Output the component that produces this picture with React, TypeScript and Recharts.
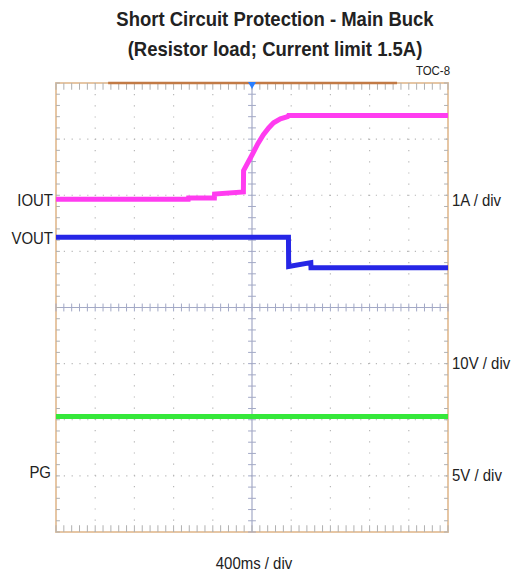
import React from "react";
import {
  LineChart,
  Line,
  XAxis,
  YAxis,
  ReferenceLine,
  ReferenceArea,
  ReferenceDot,
} from "recharts";

// time in ms (400 ms / div), levels in screen divisions from centre
const TIME_TICKS = [-2000, -1600, -1200, -800, -400, 0, 400, 800, 1200, 1600, 2000];
const DIV_TICKS = [-4, -3, -2, -1, 0, 1, 2, 3, 4];

const IOUT_T = [-2000, -650, -648, -384, -382, -88, -86, 4, 60, 116, 170, 220, 290, 364, 372, 2000];
const IOUT_V = [1.93, 1.93, 1.95, 1.95, 2.02, 2.06, 2.44, 2.73, 2.92, 3.08, 3.2, 3.29, 3.36, 3.4, 3.42, 3.42];

const VOUT_T = [-2000, 372, 374, 600, 602, 2000];
const VOUT_V = [1.25, 1.25, 0.73, 0.8, 0.71, 0.71];

const PG_T = [-2000, 2000];
const PG_V = [-1.94, -1.94];

// scope decorations: record bar at top, zoom bars at bottom
const TOP_BAR = [-1468, 1480];
const BOTTOM_BARS = [
  [-1980, -312],
  [-240, 1520],
];

const minorT: number[] = [];
for (let i = 0; i <= 50; i++) minorT.push(-2000 + i * 80);
const minorV: number[] = [];
for (let i = 0; i <= 40; i++) minorV.push(-4 + i * 0.2);

const W = 515;
const H = 577;
const FONT = "'Liberation Sans', Arial, sans-serif";

const iout = IOUT_T.map((t, i) => ({ t, v: IOUT_V[i] }));
const vout = VOUT_T.map((t, i) => ({ t, v: VOUT_V[i] }));
const pg = PG_T.map((t, i) => ({ t, v: PG_V[i] }));

const GRID = "#b8b8b8";
const CROSS = "#a3a9c6";
const TICK = "#b0b0b0";

function Trigger(props: any) {
  const { cx, cy } = props;
  return (
    <polygon
      points={`${cx - 4},${cy - 1} ${cx + 4},${cy - 1} ${cx},${cy + 6}`}
      fill="#2a7fff"
    />
  );
}

// narrow-looking text: Liberation Sans squeezed horizontally
function Text({ x, y, size, bold, anchor, children }: any) {
  const tx =
    anchor === "end" ? "translate(-100%, -50%)" : anchor === "middle" ? "translate(-50%, -50%)" : "translate(0, -50%)";
  const origin = anchor === "end" ? "right center" : anchor === "middle" ? "center center" : "left center";
  return (
    <div style={{ position: "absolute", left: x, top: y, transform: tx, whiteSpace: "nowrap" }}>
      <div
        style={{
          fontFamily: FONT,
          fontSize: size,
          fontWeight: bold ? 700 : 400,
          color: "#222",
          lineHeight: 1,
          transform: "scaleX(0.88)",
          transformOrigin: origin,
        }}
      >
        {children}
      </div>
    </div>
  );
}

export default function App() {
  return (
    <div style={{ position: "absolute", left: 0, top: 0, width: W, height: H, background: "#fff" }}>
      <LineChart width={W} height={H} margin={{ top: 83, right: 67, bottom: 45, left: 56 }}>
        <XAxis dataKey="t" type="number" domain={[-2000, 2000]} hide allowDuplicatedCategory={false} />
        <YAxis dataKey="v" type="number" domain={[-4, 4]} hide />

        {TIME_TICKS.slice(1, -1).map((t) =>
          t === 0 ? null : (
            <ReferenceLine key={"gx" + t} x={t} stroke={GRID} strokeWidth={1.2} strokeDasharray="1.2 10" />
          )
        )}
        {DIV_TICKS.slice(1, -1).map((v) =>
          v === 0 ? null : (
            <ReferenceLine key={"gy" + v} y={v} stroke={GRID} strokeWidth={1.2} strokeDasharray="1.2 6.6" />
          )
        )}

        <ReferenceLine x={0} stroke={CROSS} strokeWidth={1.2} />
        <ReferenceLine y={0} stroke={CROSS} strokeWidth={1.2} />

        {minorT.map((t) => (
          <ReferenceLine key={"cx" + t} segment={[{ x: t, y: -0.07 }, { x: t, y: 0.07 }]} stroke={CROSS} />
        ))}
        {minorV.map((v) => (
          <ReferenceLine key={"cy" + v} segment={[{ x: -40, y: v }, { x: 40, y: v }]} stroke={CROSS} />
        ))}
        {minorT.map((t) => (
          <ReferenceLine key={"tt" + t} segment={[{ x: t, y: 4 }, { x: t, y: 3.88 }]} stroke={TICK} />
        ))}
        {minorT.map((t) => (
          <ReferenceLine key={"bt" + t} segment={[{ x: t, y: -4 }, { x: t, y: -3.88 }]} stroke={TICK} />
        ))}
        {minorV.map((v) => (
          <ReferenceLine key={"lt" + v} segment={[{ x: -2000, y: v }, { x: -1960, y: v }]} stroke={TICK} />
        ))}
        {minorV.map((v) => (
          <ReferenceLine key={"rt" + v} segment={[{ x: 2000, y: v }, { x: 1960, y: v }]} stroke={TICK} />
        ))}

        <ReferenceArea x1={-2000} x2={2000} y1={-4} y2={4} fill="none" stroke="#e6c6a4" strokeWidth={2} />

        <ReferenceLine
          segment={[{ x: TOP_BAR[0], y: 4 }, { x: TOP_BAR[1], y: 4 }]}
          stroke="#c27a45"
          strokeWidth={2.5}
        />
        {BOTTOM_BARS.map(([a, b]) => (
          <ReferenceLine
            key={"bb" + a}
            segment={[{ x: a, y: -4.03 }, { x: b, y: -4.03 }]}
            stroke="#5d6272"
            strokeWidth={2}
          />
        ))}

        <Line data={pg} dataKey="v" stroke="#35e83a" strokeWidth={5} dot={false} isAnimationActive={false} />
        <Line data={vout} dataKey="v" stroke="#2626e6" strokeWidth={5} dot={false} isAnimationActive={false} />
        <Line data={iout} dataKey="v" stroke="#ff3cf0" strokeWidth={5} dot={false} isAnimationActive={false} />

        <ReferenceDot x={0} y={4} r={4} shape={Trigger} />
      </LineChart>

      <Text x={275} y={18} size={21} bold anchor="middle">Short Circuit Protection - Main Buck</Text>
      <Text x={275} y={48} size={21} bold anchor="middle">(Resistor load; Current limit 1.5A)</Text>
      <Text x={450} y={70} size={13} anchor="end">TOC-8</Text>

      <Text x={53} y={200} size={17} anchor="end">IOUT</Text>
      <Text x={53} y={238} size={17} anchor="end">VOUT</Text>
      <Text x={51} y={472} size={17} anchor="end">PG</Text>

      <Text x={452} y={200} size={17} anchor="start">1A / div</Text>
      <Text x={452} y={363} size={17} anchor="start">10V / div</Text>
      <Text x={452} y={475} size={17} anchor="start">5V / div</Text>

      <Text x={254} y={563} size={17} anchor="middle">400ms / div</Text>
    </div>
  );
}
